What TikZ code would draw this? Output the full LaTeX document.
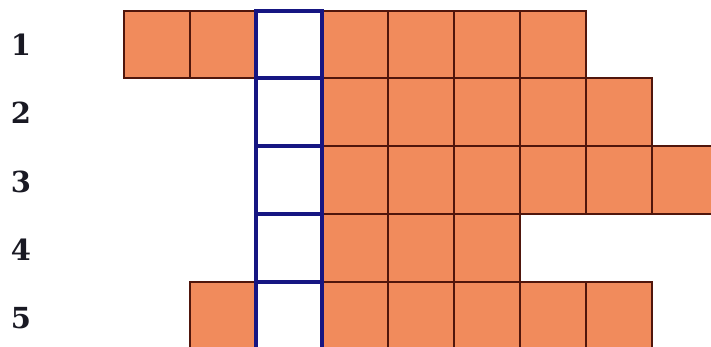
\documentclass[tikz,border=0pt]{standalone}
\usepackage{fontspec}
\newfontfamily\numfont{DejaVu Serif}
\begin{document}
\begin{tikzpicture}[x=1pt,y=-1pt,
  cell/.style={fill=cellorange,draw=celledge,line width=1.8pt},
  bluecell/.style={fill=white,draw=cellblue,line width=3.2pt},
  numlabel/.style={font=\numfont\bfseries\fontsize{29}{29}\selectfont,text=numcol,inner sep=0pt}]
\definecolor{cellorange}{RGB}{241,139,92}
\definecolor{celledge}{RGB}{80,22,12}
\definecolor{cellblue}{RGB}{22,22,130}
\definecolor{numcol}{RGB}{25,25,35}
\useasboundingbox (0,0) rectangle (711,347);
\clip (0,0) rectangle (711,347);
% row 1
\foreach \x in {124,190,322,388,454,520} \draw[cell] (\x,11) rectangle ++(66,67);
% row 2
\foreach \x in {322,388,454,520,586} \draw[cell] (\x,78) rectangle ++(66,68);
% row 3
\foreach \x in {322,388,454,520,586,652} \draw[cell] (\x,146) rectangle ++(66,68);
% row 4
\foreach \x in {322,388,454} \draw[cell] (\x,214) rectangle ++(66,68);
% row 5
\foreach \x in {190,322,388,454,520,586} \draw[cell] (\x,282) rectangle ++(66,70);
% blue column
\foreach \y/\h in {11/67,78/68,146/68,214/68,282/70} \draw[bluecell] (256,\y) rectangle ++(66,\h);
% labels
\node[numlabel] (n1) at (21,45) {1};
\node[numlabel] (n2) at (21,113) {2};
\node[numlabel] (n3) at (21,182) {3};
\node[numlabel] (n4) at (21,250) {4};
\node[numlabel] (n5) at (21,318) {5};
\end{tikzpicture}
\end{document}
